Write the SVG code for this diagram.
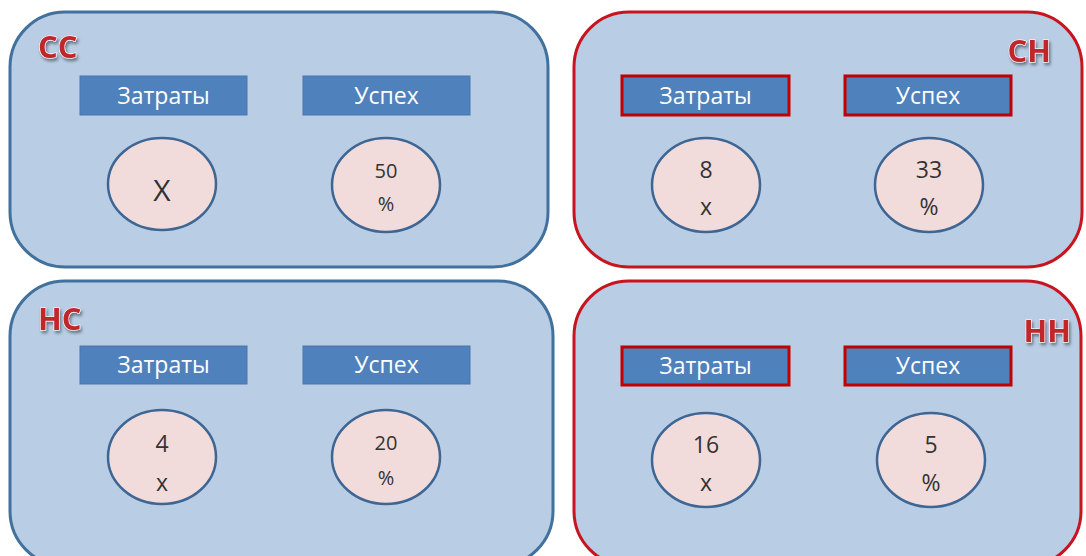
<svg xmlns="http://www.w3.org/2000/svg" width="1086" height="556" viewBox="0 0 1086 556">
<defs>
<filter id="sh" x="-20%" y="-20%" width="150%" height="160%">
<feDropShadow dx="1.5" dy="2.5" stdDeviation="1.5" flood-color="#000" flood-opacity="0.45"/>
</filter>
</defs>
<style>
.panel{fill:#b9cde5;stroke-width:3}
.pb{stroke:#41719c}
.pr{stroke:#c8141e}
.box{fill:#4f81bd}
.boxb{stroke:#4a77ad;stroke-width:1}
.boxr{stroke:#c00000;stroke-width:3}
.bt{font-family:"Open Sans","Liberation Sans",sans-serif;font-size:23px;fill:#fff;text-anchor:middle}
.ov{fill:#f2dcdb;stroke:#3d6695;stroke-width:2.5}
.ct{font-family:"Open Sans","Liberation Sans",sans-serif;fill:#333;text-anchor:middle}
.lab{font-family:"Open Sans","Liberation Sans",sans-serif;font-weight:bold;font-size:31px;fill:#c0282a;stroke:#fff;stroke-width:1.2;paint-order:stroke;filter:url(#sh)}
</style>
<g id="cc">
<rect class="panel pb" x="10" y="12" width="538" height="255" rx="55" ry="55"/>
<text class="lab" x="38" y="58">СС</text>
<rect class="box boxb" x="80" y="76" width="167" height="39"/>
<text class="bt" x="163.5" y="104">Затраты</text>
<rect class="box boxb" x="303" y="76" width="167" height="39"/>
<text class="bt" x="386.5" y="104">Успех</text>
<ellipse class="ov" cx="162" cy="184" rx="54" ry="46"/>
<text class="ct" x="162" y="201" font-size="30" fill="#111">X</text>
<ellipse class="ov" cx="386" cy="185" rx="54" ry="47"/>
<text class="ct" x="386" y="178" font-size="20">50</text>
<text class="ct" x="386" y="211" font-size="20">%</text>
</g>
<g id="ch">
<rect class="panel pr" x="574" y="12" width="508" height="255" rx="55" ry="55"/>
<text class="lab" x="1051" y="62" text-anchor="end">СН</text>
<rect class="box boxr" x="622" y="76" width="167" height="39"/>
<text class="bt" x="705.5" y="104">Затраты</text>
<rect class="box boxr" x="845" y="76" width="166" height="39"/>
<text class="bt" x="928" y="104">Успех</text>
<ellipse class="ov" cx="706" cy="185" rx="54" ry="47"/>
<text class="ct" x="706" y="178" font-size="23">8</text>
<text class="ct" x="706" y="215" font-size="23">x</text>
<ellipse class="ov" cx="929" cy="185" rx="54" ry="47"/>
<text class="ct" x="929" y="178" font-size="23">33</text>
<text class="ct" x="929" y="215" font-size="23">%</text>
</g>
<g id="nc">
<rect class="panel pb" x="10" y="281" width="543" height="285" rx="55" ry="55"/>
<text class="lab" x="38" y="330">НС</text>
<rect class="box boxb" x="80" y="346" width="167" height="38"/>
<text class="bt" x="163.5" y="373">Затраты</text>
<rect class="box boxb" x="303" y="346" width="167" height="38"/>
<text class="bt" x="386.5" y="373">Успех</text>
<ellipse class="ov" cx="162" cy="457" rx="54" ry="47"/>
<text class="ct" x="162" y="452" font-size="23">4</text>
<text class="ct" x="162" y="491" font-size="23">x</text>
<ellipse class="ov" cx="386" cy="457" rx="54" ry="47"/>
<text class="ct" x="386" y="450" font-size="20">20</text>
<text class="ct" x="386" y="485" font-size="20">%</text>
</g>
<g id="nn">
<rect class="panel pr" x="574" y="281" width="507" height="285" rx="55" ry="55"/>
<text class="lab" x="1071" y="342" text-anchor="end">НН</text>
<rect class="box boxr" x="622" y="347" width="167" height="38"/>
<text class="bt" x="705.5" y="374">Затраты</text>
<rect class="box boxr" x="845" y="347" width="166" height="38"/>
<text class="bt" x="928" y="374">Успех</text>
<ellipse class="ov" cx="706" cy="460" rx="54" ry="47"/>
<text class="ct" x="706" y="453" font-size="23">16</text>
<text class="ct" x="706" y="491" font-size="23">x</text>
<ellipse class="ov" cx="931" cy="460" rx="54" ry="47"/>
<text class="ct" x="931" y="453" font-size="23">5</text>
<text class="ct" x="931" y="491" font-size="23">%</text>
</g>
<g id="connectors"/>
</svg>
